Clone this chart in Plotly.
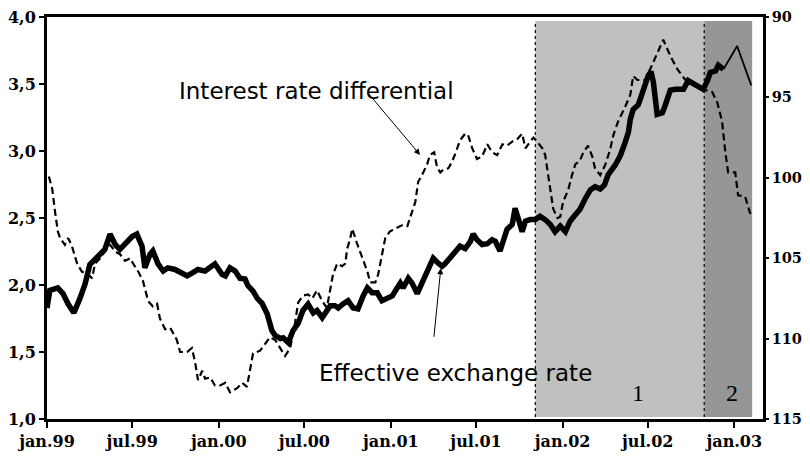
import plotly.graph_objects as go

# Effective exchange rate (right axis, reversed) - thick part
er_dates = [
    "1999-01-01", "1999-01-07", "1999-01-24", "1999-02-04", "1999-02-15", "1999-02-27",
    "1999-03-12", "1999-03-23", "1999-04-02", "1999-04-19", "1999-05-04", "1999-05-15",
    "1999-05-26", "1999-06-05", "1999-06-20", "1999-07-01", "1999-07-11", "1999-07-22",
    "1999-07-28", "1999-08-08", "1999-08-14", "1999-08-25", "1999-09-05", "1999-09-15",
    "1999-09-30", "1999-10-15", "1999-10-26", "1999-11-07", "1999-11-18", "1999-12-03",
    "1999-12-14", "1999-12-24", "2000-01-08", "2000-01-15", "2000-01-25", "2000-02-05",
    "2000-02-15", "2000-02-26", "2000-03-03", "2000-03-14", "2000-03-23", "2000-04-02",
    "2000-04-13", "2000-04-23", "2000-04-30", "2000-05-11", "2000-05-17", "2000-05-28",
    "2000-06-07", "2000-06-18", "2000-06-28", "2000-07-09", "2000-07-20", "2000-07-28",
    "2000-08-08", "2000-08-18", "2000-08-25", "2000-09-04", "2000-09-11", "2000-09-21",
    "2000-10-02", "2000-10-13", "2000-10-23", "2000-11-03", "2000-11-12", "2000-11-22",
    "2000-12-03", "2000-12-13", "2000-12-24", "2001-01-04", "2001-01-10", "2001-01-21",
    "2001-01-27", "2001-02-07", "2001-02-15", "2001-02-26", "2001-03-08", "2001-03-21",
    "2001-04-01", "2001-04-11", "2001-04-20", "2001-04-26", "2001-05-07", "2001-05-18",
    "2001-05-28", "2001-06-08", "2001-06-19", "2001-06-25", "2001-07-03", "2001-07-14",
    "2001-07-25", "2001-08-04", "2001-08-11", "2001-08-21", "2001-08-28", "2001-09-05",
    "2001-09-16", "2001-09-22", "2001-09-29", "2001-10-07", "2001-10-14", "2001-10-24",
    "2001-11-04", "2001-11-14", "2001-11-25", "2001-12-06", "2001-12-16", "2001-12-27",
    "2002-01-07", "2002-01-17", "2002-01-28", "2002-02-07", "2002-02-18", "2002-03-01",
    "2002-03-11", "2002-03-22", "2002-03-31", "2002-04-08", "2002-04-23", "2002-05-04",
    "2002-05-14", "2002-05-21", "2002-05-25", "2002-05-31", "2002-06-11", "2002-06-21",
    "2002-07-02", "2002-07-08", "2002-07-13", "2002-07-21", "2002-08-01", "2002-08-07",
    "2002-08-18", "2002-08-29", "2002-09-08", "2002-09-15", "2002-09-25", "2002-10-10",
    "2002-10-27", "2002-11-05", "2002-11-11", "2002-11-22", "2002-11-28", "2002-12-09",
]
er_values = [
    108.1, 107.0, 106.85, 107.2, 107.85, 108.4,
    107.5, 106.6, 105.4, 104.9, 104.45, 103.5,
    104.15, 104.45, 103.95, 103.65, 103.5, 104.25,
    105.6, 104.75, 104.55, 105.35, 105.8, 105.6,
    105.7, 105.9, 106.1, 105.9, 105.7, 105.8,
    105.6, 105.35, 106.0, 106.1, 105.6, 105.8,
    106.25, 106.3, 106.7, 107.05, 107.5, 107.8,
    108.45, 109.5, 109.8, 110.0, 109.95, 110.25,
    109.5, 109.05, 108.25, 107.85, 108.4, 108.25,
    108.7, 108.25, 107.95, 107.95, 108.1, 107.85,
    107.65, 108.1, 108.15, 107.35, 106.85, 107.15,
    107.15, 107.65, 107.45, 107.35, 107.05, 106.55,
    106.85, 106.25, 106.55, 107.2, 106.55, 105.7,
    105.0, 105.3, 105.5, 105.35, 105.0, 104.55,
    104.25, 104.4, 103.95, 103.5, 103.85, 104.15,
    104.1, 103.85, 103.95, 104.55, 103.95, 103.2,
    102.9, 101.9, 102.55, 103.35, 102.7, 102.6,
    102.6, 102.4, 102.6, 102.9, 103.35, 103.0,
    103.35, 102.7, 102.3, 101.95, 101.3, 100.75,
    100.55, 100.7, 100.45, 99.8, 99.2, 98.6,
    97.8, 97.15, 96.35, 95.75, 95.45, 94.55,
    93.65, 93.4, 94.05, 96.05, 95.95, 95.5,
    94.55, 94.5, 94.55, 94.5, 93.95, 94.2,
    94.5, 93.95, 93.45, 93.35, 93.0, 93.25,
]

# Effective exchange rate - thin last part
er_thin_dates = ["2002-12-09", "2003-01-07", "2003-02-06"]
er_thin_values = [93.25, 91.8, 94.25]

# Interest rate differential (left axis)
ird_dates = [
    "1999-01-05", "1999-01-12", "1999-01-18", "1999-01-24", "1999-01-29", "1999-02-08",
    "1999-02-15", "1999-02-23", "1999-03-06", "1999-03-16", "1999-03-29", "1999-04-07",
    "1999-04-13", "1999-04-24", "1999-05-04", "1999-05-15", "1999-05-26", "1999-06-05",
    "1999-06-16", "1999-06-27", "1999-07-03", "1999-07-14", "1999-07-24", "1999-08-04",
    "1999-08-14", "1999-08-23", "1999-08-29", "1999-09-09", "1999-09-20", "1999-09-26",
    "1999-10-04", "1999-10-11", "1999-10-26", "1999-11-05", "1999-11-12", "1999-11-18",
    "1999-11-27", "1999-12-03", "1999-12-14", "1999-12-24", "2000-01-04", "2000-01-15",
    "2000-01-25", "2000-02-09", "2000-02-20", "2000-03-01", "2000-03-08", "2000-03-14",
    "2000-03-29", "2000-04-09", "2000-04-19", "2000-04-30", "2000-05-11", "2000-05-21",
    "2000-06-01", "2000-06-11", "2000-06-18", "2000-06-28", "2000-07-09", "2000-07-18",
    "2000-07-28", "2000-08-08", "2000-08-18", "2000-08-25", "2000-08-31", "2000-09-09",
    "2000-09-19", "2000-09-26", "2000-09-30", "2000-10-06", "2000-10-11", "2000-10-21",
    "2000-11-01", "2000-11-12", "2000-11-18", "2000-11-29", "2000-12-05", "2000-12-13",
    "2000-12-20", "2000-12-30", "2001-01-10", "2001-01-21", "2001-01-27", "2001-02-05",
    "2001-02-11", "2001-02-22", "2001-02-28", "2001-03-08", "2001-03-19", "2001-03-25",
    "2001-04-03", "2001-04-09", "2001-04-16", "2001-04-22", "2001-05-03", "2001-05-11",
    "2001-05-18", "2001-05-28", "2001-06-08", "2001-06-14", "2001-06-23", "2001-07-03",
    "2001-07-14", "2001-07-25", "2001-08-04", "2001-08-15", "2001-08-26", "2001-09-05",
    "2001-09-16", "2001-09-27", "2001-10-07", "2001-10-14", "2001-10-24", "2001-10-31",
    "2001-11-08", "2001-11-19", "2001-11-25", "2001-12-01", "2001-12-06", "2001-12-12",
    "2001-12-21", "2001-12-27", "2002-01-02", "2002-01-13", "2002-01-21", "2002-01-28",
    "2002-02-07", "2002-02-14", "2002-02-24", "2002-03-05", "2002-03-11", "2002-03-22",
    "2002-04-02", "2002-04-12", "2002-04-19", "2002-04-29", "2002-05-14", "2002-05-25",
    "2002-05-31", "2002-06-09", "2002-06-26", "2002-07-06", "2002-07-21", "2002-08-03",
    "2002-08-18", "2002-09-02", "2002-09-19", "2002-10-06", "2002-10-25", "2002-11-15",
    "2002-11-26", "2002-12-06", "2002-12-13", "2002-12-19", "2003-01-03", "2003-01-09",
    "2003-01-24", "2003-02-04",
]
ird_values = [
    2.81, 2.72, 2.55, 2.40, 2.35, 2.30,
    2.35, 2.29, 2.16, 2.10, 2.08, 2.05,
    2.16, 2.20, 2.25, 2.30, 2.25, 2.23,
    2.18, 2.20, 2.16, 2.10, 2.03, 1.88,
    1.84, 1.86, 1.75, 1.67, 1.68, 1.64,
    1.59, 1.50, 1.50, 1.53, 1.42, 1.29,
    1.36, 1.30, 1.31, 1.25, 1.25, 1.27,
    1.20, 1.23, 1.27, 1.24, 1.36, 1.49,
    1.51, 1.56, 1.61, 1.59, 1.53, 1.47,
    1.53, 1.71, 1.87, 1.92, 1.93, 1.90,
    1.96, 1.88, 1.83, 1.96, 2.08, 2.16,
    2.14, 2.16, 2.27, 2.34, 2.42, 2.31,
    2.20, 2.10, 2.02, 2.02, 2.08, 2.23,
    2.35, 2.40, 2.42, 2.44, 2.45, 2.44,
    2.51, 2.62, 2.77, 2.82, 2.90, 2.97,
    2.99, 2.88, 2.84, 2.86, 2.87, 2.92,
    2.98, 3.08, 3.13, 3.12, 3.02, 2.94,
    2.96, 3.05, 2.99, 2.97, 3.05, 3.04,
    3.07, 3.09, 3.13, 3.02, 3.07, 3.10,
    3.07, 3.02, 2.97, 2.84, 2.72, 2.57,
    2.50, 2.51, 2.62, 2.71, 2.82, 2.90,
    2.93, 2.99, 3.04, 2.96, 2.87, 2.82,
    2.90, 3.01, 3.12, 3.22, 3.33, 3.42,
    3.56, 3.53, 3.53, 3.61, 3.73, 3.83,
    3.71, 3.61, 3.53, 3.49, 3.46, 3.44,
    3.36, 3.22, 2.99, 2.84, 2.84, 2.67,
    2.66, 2.53,
]

# x axis ticks
tick_dates = ["1999-01-01", "1999-07-01", "2000-01-01", "2000-07-01", "2001-01-01",
              "2001-07-01", "2002-01-01", "2002-07-01", "2003-01-01"]
tick_labels = ["jan.99", "jul.99", "jan.00", "jul.00", "jan.01",
               "jul.01", "jan.02", "jul.02", "jan.03"]

# shaded periods
periodo1 = ["2001-11-04", "2002-10-29"]
periodo2 = ["2002-10-29", "2003-02-08"]

fonte_eixo = dict(family="DejaVu Serif", size=16, color="black", weight="bold")
fonte_eixo_dir = dict(family="DejaVu Serif", size=14.5, color="black", weight="bold")

fig = go.Figure()

fig.add_trace(go.Scatter(
    x=ird_dates, y=ird_values, mode="lines",
    line=dict(color="black", width=2.2, dash="7px,4px"),
    name="Interest rate differential",
))
fig.add_trace(go.Scatter(
    x=er_dates, y=er_values, mode="lines", yaxis="y2",
    line=dict(color="black", width=5.5),
    name="Effective exchange rate",
))
fig.add_trace(go.Scatter(
    x=er_thin_dates, y=er_thin_values, mode="lines", yaxis="y2",
    line=dict(color="black", width=1.8),
    showlegend=False,
))

# areas cinzas
fig.add_shape(type="rect", xref="x", yref="paper", x0=periodo1[0], x1=periodo1[1],
              y0=0.005, y1=0.99, fillcolor="#C0C0C0", line_width=0, layer="below")
fig.add_shape(type="rect", xref="x", yref="paper", x0=periodo2[0], x1=periodo2[1],
              y0=0.005, y1=0.99, fillcolor="#969696", line_width=0, layer="below")
for x0 in [periodo1[0], periodo2[0]]:
    fig.add_shape(type="line", xref="x", yref="paper", x0=x0, x1=x0, y0=0.005, y1=0.99,
                  line=dict(color="black", width=1.2, dash="dot"), layer="below")

fonte_texto = dict(family="DejaVu Sans", size=23, color="black")

fig.add_annotation(x=0.377, y=0.817, xref="paper", yref="paper",
                   xanchor="center", yanchor="middle",
                   text="Interest rate differential", showarrow=False, font=fonte_texto)
fig.add_annotation(x=0.521, y=0.657, xref="paper", yref="paper", text="",
                   showarrow=True, ax=-53, ay=-63, arrowhead=2, arrowsize=1.2,
                   arrowwidth=1, arrowcolor="black")
fig.add_annotation(x=0.570, y=0.114, xref="paper", yref="paper",
                   xanchor="center", yanchor="middle",
                   text="Effective exchange rate", showarrow=False, font=fonte_texto)
fig.add_annotation(x=0.550, y=0.375, xref="paper", yref="paper", text="",
                   showarrow=True, ax=-7, ay=70, arrowhead=2, arrowsize=1.2,
                   arrowwidth=1, arrowcolor="black")

fonte_num = dict(family="Liberation Serif, Times New Roman", size=24, color="black")
fig.add_annotation(x=0.825, y=0.064, xref="paper", yref="paper", text="1",
                   xanchor="center", yanchor="middle", showarrow=False, font=fonte_num)
fig.add_annotation(x=0.957, y=0.064, xref="paper", yref="paper", text="2",
                   xanchor="center", yanchor="middle", showarrow=False, font=fonte_num)

# a pagina tem margem de 8px no body, entao a figura fica deslocada
fig.update_layout(
    width=794, height=448,
    margin=dict(l=39, r=39, t=9, b=37),
    paper_bgcolor="white", plot_bgcolor="white",
    showlegend=False,
    separators=",.",
    xaxis=dict(
        type="date", range=["1999-01-01", "2003-03-03"],
        tickvals=tick_dates, ticktext=tick_labels,
        ticks="outside", ticklen=6, tickwidth=2, tickcolor="black",
        showline=True, linewidth=2.5, linecolor="black", mirror=True,
        showgrid=False, zeroline=False, tickfont=fonte_eixo, automargin=False,
        ticklabeloverflow="allow",
    ),
    yaxis=dict(
        range=[1, 4], dtick=0.5, tickformat=".1f",
        ticks="outside", ticklen=5, tickwidth=2, tickcolor="black",
        showline=True, linewidth=3, linecolor="black",
        showgrid=False, zeroline=False, tickfont=fonte_eixo, automargin=False,
        ticklabeloverflow="allow",
    ),
    yaxis2=dict(
        range=[115, 90], dtick=5, overlaying="y", side="right",
        ticks="outside", ticklen=3, tickwidth=2, tickcolor="black",
        showline=True, linewidth=2.5, linecolor="black",
        showgrid=False, zeroline=False, tickfont=fonte_eixo_dir, automargin=False,
        ticklabeloverflow="allow",
    ),
)

fig.write_html("out.html")
